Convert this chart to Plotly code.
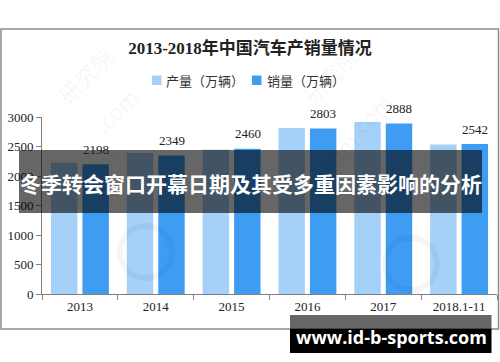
import plotly.graph_objects as go

categories = ["2013", "2014", "2015", "2016", "2017", "2018.1-11"]
production = [2225, 2390, 2450, 2815, 2915, 2535]
sales = [2198, 2349, 2460, 2803, 2888, 2542]
series_names = ["产量（万辆）", "销量（万辆）"]
series_colors = ["#A5D0F8", "#3E9CF2"]
y_ticks = [0, 500, 1000, 1500, 2000, 2500, 3000]

W, H = 500, 362
L, R, T, B = 42, 497, 117, 294


def px(x):
    return (x - L) / (R - L)


def py(y):
    return (B - y) / (B - T)


SERIF = "Liberation Serif, Noto Sans CJK SC, serif"
CJK = "Noto Sans CJK SC, sans-serif"

fig = go.Figure()
for name, vals, col in zip(series_names, [production, sales], series_colors):
    fig.add_trace(go.Bar(x=categories, y=vals, name=name, showlegend=False,
                         marker=dict(color=col, line=dict(width=0))))

annotations = []
for i, v in enumerate(sales):
    annotations.append(dict(x=i, y=v, xref="x", yref="y", text=str(v), showarrow=False,
                            xshift=16, yshift=15, xanchor="center", yanchor="middle",
                            font=dict(family=SERIF, size=13, color="#222")))

# legend (manual, to match compact spacing)
shapes = []
for (sx, tx), name, col in zip([(152, 164), (252, 265)], series_names, series_colors):
    shapes.append(dict(type="rect", xref="paper", yref="paper", x0=px(sx), x1=px(sx + 9.5),
                       y0=py(85), y1=py(75.5), fillcolor=col, line=dict(width=0)))
    annotations.append(dict(x=px(tx), y=py(80.5), xref="paper", yref="paper", text=name, showarrow=False,
                            xanchor="left", yanchor="middle", font=dict(family=CJK, size=13, color="#333")))

# faint watermarks
for (wx, wy, t) in [(85, 75, "研究院"), (330, 75, "研究院"), (115, 110, ".com"), (370, 115, ".com"),
                    (90, 175, "ci.com"), (330, 160, "ci.com")]:
    annotations.append(dict(x=px(wx), y=py(wy), xref="paper", yref="paper", text=t, showarrow=False,
                            textangle=-45, xanchor="center", yanchor="middle",
                            font=dict(family=CJK, size=22, color="rgba(0,0,0,0.05)")))

# banner text
annotations.append(dict(x=px(250.5), y=py(183), xref="paper", yref="paper",
                        text="<b>冬季转会窗口开幕日期及其受多重因素影响的分析</b>", showarrow=False,
                        font=dict(family=CJK, size=21, color="white"), xanchor="center", yanchor="middle"))
annotations.append(dict(x=px(391), y=py(337), xref="paper", yref="paper",
                        text="<b>www.id-b-sports.com</b>", showarrow=False,
                        font=dict(family="Open Sans, DejaVu Sans, sans-serif", size=18, color="white"),
                        xanchor="center", yanchor="middle"))

shapes += [
    dict(type="rect", xref="paper", yref="paper", x0=px(1), x1=px(498.5), y0=py(329), y1=py(29),
         line=dict(color="#8c8c8c", width=1.5), fillcolor="rgba(0,0,0,0)", layer="below"),
    dict(type="circle", xref="paper", yref="paper", x0=px(120), x1=px(172), y0=py(278), y1=py(226),
         line=dict(color="rgba(0,0,0,0.04)", width=6), layer="above"),
    dict(type="circle", xref="paper", yref="paper", x0=px(385), x1=px(437), y0=py(290), y1=py(238),
         line=dict(color="rgba(0,0,0,0.04)", width=6), layer="above"),
    dict(type="rect", xref="paper", yref="paper", x0=px(19), x1=px(482), y0=py(213), y1=py(150),
         fillcolor="rgba(0,0,0,0.6)", line=dict(width=0), layer="above"),
    dict(type="rect", xref="paper", yref="paper", x0=px(290), x1=px(491.5), y0=py(329), y1=py(315),
         fillcolor="rgba(0,0,0,0.6)", line=dict(width=0), layer="above"),
    dict(type="rect", xref="paper", yref="paper", x0=px(290), x1=px(491.5), y0=py(353), y1=py(329),
         fillcolor="#000000", line=dict(width=0), layer="above"),
]

fig.update_layout(
    width=W, height=H,
    margin=dict(l=L, r=W - R, t=T, b=H - B, pad=0),
    paper_bgcolor="white", plot_bgcolor="white",
    barmode="group", bargap=0.17, bargroupgap=0.16,
    showlegend=False,
    title=dict(text="<b>2013-2018年中国汽车产销量情况</b>", x=0.5, xref="container",
               y=1 - 48 / H, yref="container", xanchor="center", yanchor="middle",
               font=dict(family=SERIF, size=17, color="#222")),
    xaxis=dict(type="category", range=[-0.5, 5.5], showline=True, linecolor="#808080", linewidth=1,
               ticks="outside", tickson="boundaries", ticklen=5, tickcolor="#808080", showgrid=False,
               zeroline=False, tickangle=0, tickfont=dict(family=SERIF, size=13, color="#222")),
    yaxis=dict(range=[0, 3000], tickvals=y_ticks, showline=True, linecolor="#808080", linewidth=1,
               ticks="outside", ticklen=5, tickcolor="#808080", showgrid=False, zeroline=False,
               tickfont=dict(family=SERIF, size=13, color="#222")),
    annotations=annotations,
    shapes=shapes,
)

fig.write_html("out.html", config={"displayModeBar": False},
               post_script="document.body.style.margin='0';document.body.style.overflow='hidden';")
